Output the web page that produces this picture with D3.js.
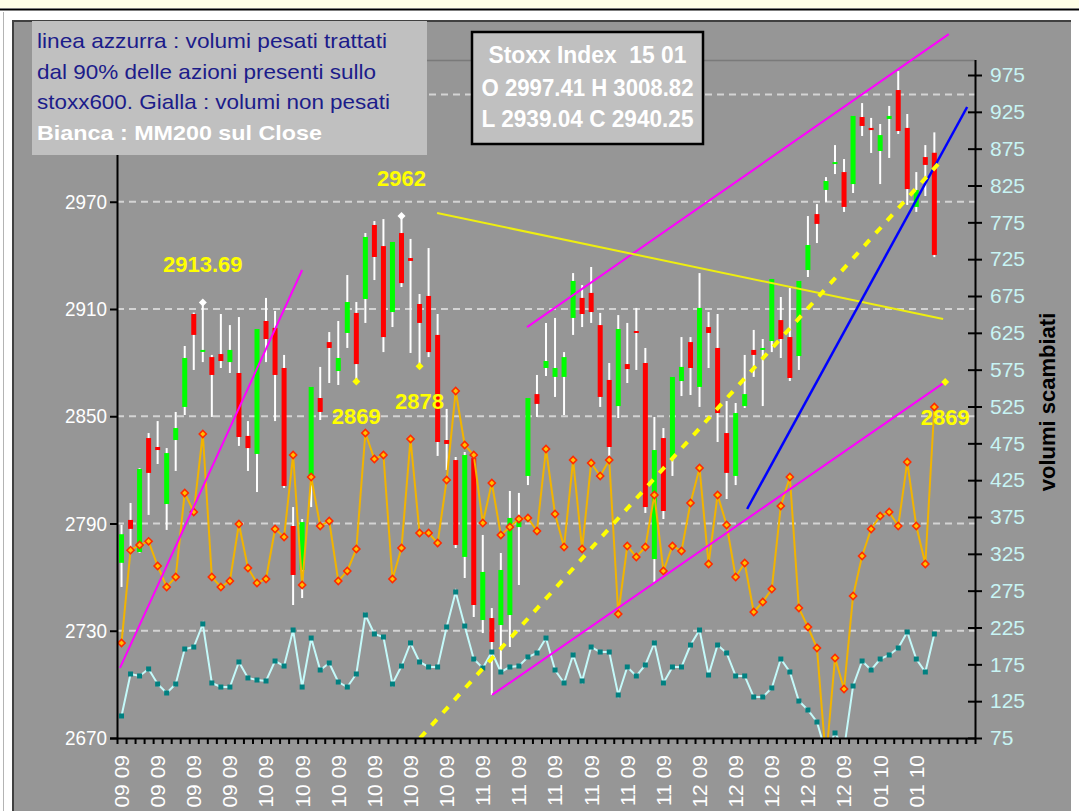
<!DOCTYPE html>
<meta charset="utf-8">
<title>Stoxx Index 15 01</title>
<script src="https://cdn.jsdelivr.net/npm/d3@7"></script>
<style>
body { margin: 0; background: #fff; overflow: hidden; }
svg text { font-family: Arial, "Liberation Sans", sans-serif; }
</style>
<body>
<svg id="chart" width="1079" height="811"></svg>
<script>

// daily candles, Stoxx index
var open = [2768, 2792, 2774, 2837.8, 2832.8, 2800.9, 2836.7, 2855.2, 2907.2, 2886.5,
  2883.1, 2884.8, 2880.3, 2874.2, 2839, 2828.9, 2903.3, 2899.4, 2877, 2788.6,
  2764, 2816, 2860.2, 2891.5, 2875.3, 2896.6, 2907.8, 2915.6, 2957, 2945.2,
  2908.3, 2952.5, 2938.5, 2912.8, 2917.3, 2895.5, 2836.7, 2825.5, 2771.3, 2826.6,
  2736, 2737.1, 2733.2, 2738.8, 2788, 2816.6, 2862.4, 2877, 2872, 2872,
  2905, 2916.2, 2919, 2901, 2870.3, 2855.7, 2879.2, 2897.7, 2879.8, 2770.1,
  2837.8, 2826.6, 2869.7, 2891.5, 2866.4, 2899.9, 2888.2, 2840.6, 2816.6, 2855.7,
  2887.1, 2887.1, 2892.1, 2903.8, 2894.3, 2883.7, 2931.8, 2963.1, 2976.6, 2991.1,
  2986.6, 2979.9, 3017.4, 3011.3, 2998.4, 3016.3, 3032.5, 3011.3, 2967.1, 2995,
  2997.41];
var high = [2789.2, 2801.5, 2821, 2840.6, 2847.3, 2832.2, 2852.4, 2889.3, 2908, 2913.69,
  2884.3, 2907.2, 2901, 2905.5, 2847.3, 2898.8, 2916.2, 2908.9, 2884.3, 2799.2,
  2792.5, 2866.4, 2877.6, 2897.1, 2903.3, 2929, 2913.9, 2952.5, 2959.2, 2960.3,
  2947.5, 2962, 2949.2, 2918.4, 2944.1, 2907.2, 2854.1, 2827.2, 2830, 2828.3,
  2783.6, 2742.7, 2773.5, 2808.2, 2807.1, 2860.2, 2873.1, 2902.2, 2905, 2885.9,
  2930.1, 2923.4, 2933.5, 2907.8, 2879.8, 2906.6, 2902.2, 2910.6, 2888.2, 2849.6,
  2843.4, 2872, 2894.3, 2894.3, 2930.1, 2908.3, 2907.2, 2858.5, 2857.4, 2884.3,
  2898.3, 2893.2, 2926.8, 2916.7, 2921.7, 2925.7, 2962, 2968.7, 2983.8, 3001.7,
  2993.9, 3018, 3025.2, 3016.9, 3013.5, 3023.6, 3043.1, 3019.1, 2986.6, 3001.7,
  3008.82];
var low = [2754.5, 2776.3, 2773.5, 2794.8, 2823.3, 2786.4, 2819.4, 2850.7, 2875.9, 2880.3,
  2849.6, 2877, 2874.2, 2833.4, 2819.4, 2807.6, 2880.3, 2847.3, 2809.9, 2744.4,
  2748.3, 2799.2, 2847.9, 2868.6, 2867.5, 2888.2, 2869.5, 2902.2, 2926.2, 2885.9,
  2899.9, 2922.3, 2885.4, 2878, 2883.1, 2827.8, 2819.9, 2776.3, 2759.5, 2737.7,
  2728.7, 2694.1, 2706.4, 2720.9, 2755.6, 2811.5, 2849.6, 2872.5, 2860.8, 2850.7,
  2895.5, 2899.9, 2902.2, 2855.2, 2827.8, 2849, 2868.6, 2875.9, 2795.9, 2757.3,
  2792.5, 2816.6, 2861.3, 2861.9, 2855.2, 2877, 2835.6, 2803.7, 2811.5, 2854.6,
  2872, 2855.7, 2885.9, 2882.6, 2869.7, 2875.9, 2927.9, 2946.9, 2969.9, 2985.5,
  2964.3, 2974.9, 3006.8, 2997.3, 2979.9, 2994.5, 3007.9, 2968.2, 2964.3, 2973.2,
  2939.04];
var close = [2784, 2787, 2820.5, 2818.3, 2831.1, 2829.4, 2843.4, 2882.6, 2895.5, 2887.1,
  2873.1, 2880.9, 2887.1, 2838.4, 2832.2, 2898.8, 2893.2, 2873.1, 2811, 2761.2,
  2790.8, 2866.4, 2852.4, 2888.2, 2882.6, 2913.9, 2879.2, 2950.3, 2939.1, 2894.3,
  2947.5, 2924.5, 2936.9, 2902.2, 2885.9, 2835.6, 2834.5, 2778, 2828.3, 2744.4,
  2762.9, 2723.7, 2764, 2793.1, 2793.6, 2860.2, 2856.9, 2880.9, 2877, 2883.1,
  2925.7, 2907.2, 2908.3, 2860.8, 2832.8, 2898.8, 2876.4, 2897.1, 2799.2, 2831.1,
  2797, 2872, 2877.6, 2877, 2910.6, 2896.6, 2851.8, 2818.3, 2851.8, 2862.4,
  2884.3, 2888.2, 2926.8, 2893.2, 2871.4, 2925.7, 2945.8, 2957.6, 2981.6, 2992.2,
  2967.1, 3018, 3012.4, 3010.1, 3007.3, 3018, 3009.6, 2977.1, 2976.6, 2990.6,
  2940.25];

// volumes (right axis)
var volNonPesati = [204, 330, 337, 342, 308.5, 280, 293.6, 407.6, 381.8, 487.7,
  293.6, 280, 288.1, 365.5, 305.8, 285.4, 290.8, 358.7, 347.9, 459.2,
  282.7, 429.3, 362.8, 369.6, 288.1, 301.7, 331.6, 489, 453.7, 459.2,
  290.8, 332.9, 480.9, 353.3, 353.3, 339.7, 425.2, 546, 472.7, 459.2,
  366.9, 421.2, 350.6, 361.4, 372.3, 373.7, 356, 467.3, 379.1, 334.3,
  452.4, 331.6, 448.3, 430.7, 452.4, 243.3, 335.6, 320.7, 334.3, 404.9,
  301.7, 335.6, 328.9, 394, 441.5, 311.2, 404.9, 364.1, 293.6, 312.6,
  246, 259.6, 277.3, 389.9, 429.3, 251.5, 225.7, 197.2, 45, 183.6,
  141.5, 267.8, 322.1, 358.7, 376.4, 381.8, 362.8, 449.7, 362.8, 311.2,
  524.3];
var volPesati = [104.9, 161.9, 159.2, 168.7, 148.3, 136.1, 148.3, 195.8, 198.5, 229.8,
  149.7, 144.2, 144.2, 178.2, 156.5, 153.7, 152.4, 179.5, 172.7, 221.6,
  144.2, 210.7, 167.3, 176.8, 151, 144.2, 161.9, 242, 216.2, 212.1,
  148.3, 172.7, 204, 178.2, 171.4, 171.4, 225.7, 273.2, 227, 182.2,
  170, 191.7, 164.6, 171.4, 172.7, 185, 190.4, 210.7, 167.3, 149.7,
  187.7, 152.4, 198.5, 191.7, 191.7, 133.4, 171.4, 159.2, 174.1, 204,
  149.7, 171.4, 171.4, 201.2, 221.6, 160.5, 201.2, 190.4, 159.2, 159.2,
  130.7, 130.7, 142.9, 182.2, 164.6, 125.2, 113, 96.7, 55, 81.8,
  60, 145.6, 179.5, 167.3, 182.2, 187.7, 197.2, 218.9, 182.2, 164.6,
  216.2];

// one date label every 4 sessions
var dateLabels = ["09 09 09", "15 09 09", "21 09 09", "25 09 09", "01 10 09", "07 10 09",
  "13 10 09", "19 10 09", "23 10 09", "29 10 09", "04 11 09", "10 11 09", "16 11 09",
  "20 11 09", "26 11 09", "30 11 09", "04 12 09", "10 12 09", "16 12 09", "22 12 09",
  "30 12 09", "07 01 10", "13 01 10"];

var leftTicks = [2670, 2730, 2790, 2850, 2910, 2970, 3030];
var rightTicks = [75, 125, 175, 225, 275, 325, 375, 425, 475, 525, 575, 625, 675,
  725, 775, 825, 875, 925, 975];

// hand drawn lines: [session, price] start and end
var magentaLines = [[[-0.17, 2709.2], [20, 2931.8]],
                    [[44.9, 2899.9], [91.6, 3063.8]],
                    [[41.03, 2694.1], [91.2, 2869.2]]];
var yellowLine = [[34.94, 2963.7], [90.97, 2904.4]];
var blueLine = [[69.27, 2798.1], [93.63, 3023]];
var dashedLine = [[33.06, 2670], [90.42, 2991.1]];

// marked highs / lows
var markSession = [9, 31, 26, 33, 91.2];
var markValue = [2913.69, 2962, 2869.5, 2878, 2869.2];
var markText = ["2913.69", "2962", "2869", "2878", "2869"];
var markIsHigh = [true, true, false, false, false];

var svg = d3.select("#chart");

var x = d3.scaleLinear().domain([-0.5, 94.5]).range([117, 975]);
var yL = d3.scaleLinear().domain([2670, 3030]).range([738, 94.5]);
var yR = d3.scaleLinear().domain([75, 975]).range([738, 75]);

// frame
svg.append("rect").attr("width", 1079).attr("height", 811).attr("fill", "#fff");
svg.append("rect").attr("width", 1079).attr("height", 8).attr("fill", "#ffffe6");
svg.append("line").attr("x1", 0).attr("x2", 1079).attr("y1", 9.5).attr("y2", 9.5)
    .attr("stroke", "#000").attr("stroke-width", 2);
svg.append("line").attr("x1", 3.5).attr("x2", 3.5).attr("y1", 12).attr("y2", 811)
    .attr("stroke", "#b4b4b4");
svg.append("rect").attr("x", 12).attr("y", 20).attr("width", 1059).attr("height", 800)
    .attr("fill", "#969696");
svg.append("path").attr("d", "M13,811V21H1071").attr("fill", "none")
    .attr("stroke", "#404040").attr("stroke-width", 2);
svg.append("line").attr("x1", 117).attr("x2", 975).attr("y1", 60.5).attr("y2", 60.5)
    .attr("stroke", "#7a7a7a").attr("stroke-width", 1.5);

svg.append("clipPath").attr("id", "plot")
  .append("rect").attr("x", 117).attr("y", 60).attr("width", 858).attr("height", 678);

// grid
svg.append("g").selectAll("line")
    .data(leftTicks.slice(1))
  .enter().append("line")
    .attr("x1", 117).attr("x2", 975)
    .attr("y1", function(d) { return yL(d); })
    .attr("y2", function(d) { return yL(d); })
    .attr("stroke", "#d4d4d4").attr("stroke-width", 2)
    .attr("stroke-dasharray", "7,5");

// candles
var candles = svg.append("g").selectAll("g")
    .data(open)
  .enter().append("g");

candles.append("line")
    .attr("x1", function(d, i) { return x(i); })
    .attr("x2", function(d, i) { return x(i); })
    .attr("y1", function(d, i) { return yL(high[i]); })
    .attr("y2", function(d, i) { return yL(low[i]); })
    .attr("stroke", "#fff").attr("stroke-width", 2);

candles.append("rect")
    .attr("x", function(d, i) { return x(i) - 2.5; })
    .attr("width", 5)
    .attr("y", function(d, i) { return yL(Math.max(open[i], close[i])); })
    .attr("height", function(d, i) { return Math.max(2, Math.abs(yL(open[i]) - yL(close[i]))); })
    .attr("fill", function(d, i) { return close[i] >= open[i] ? "#00ff00" : "#ff0000"; });

// volume lines
var vol = svg.append("g").attr("clip-path", "url(#plot)");
var volLine = d3.line()
    .x(function(d, i) { return x(i); })
    .y(function(d) { return yR(d); });

vol.append("path").attr("d", volLine(volNonPesati))
    .attr("fill", "none").attr("stroke", "#f2b400").attr("stroke-width", 2);
vol.append("path").attr("d", volLine(volPesati))
    .attr("fill", "none").attr("stroke", "#c4fafa").attr("stroke-width", 2);

vol.selectAll(".mo")
    .data(volNonPesati)
  .enter().append("path")
    .attr("class", "mo")
    .attr("d", d3.symbol(d3.symbolSquare, 26))
    .attr("transform", function(d, i) { return "translate(" + x(i) + "," + yR(d) + ") rotate(45)"; })
    .attr("fill", "#ffc000").attr("stroke", "#ff2a00").attr("stroke-width", 1.5);

vol.selectAll(".mc")
    .data(volPesati)
  .enter().append("rect")
    .attr("class", "mc")
    .attr("x", function(d, i) { return x(i) - 2.5; })
    .attr("y", function(d) { return yR(d) - 2.5; })
    .attr("width", 5).attr("height", 5)
    .attr("fill", "#008080");

// trend lines
function drawLine(pts, color, w) {
  return svg.append("line")
    .attr("x1", x(pts[0][0])).attr("y1", yL(pts[0][1]))
    .attr("x2", x(pts[1][0])).attr("y2", yL(pts[1][1]))
    .attr("stroke", color).attr("stroke-width", w);
}
magentaLines.forEach(function(l) { drawLine(l, "#ff00ff", 2); });
drawLine(yellowLine, "#eeee10", 2);
drawLine(blueLine, "#0000ff", 2.5);
drawLine(dashedLine, "#ffff00", 4)
    .attr("stroke-dasharray", "8,9")
    .attr("clip-path", "url(#plot)");

// marks
markSession.forEach(function(s, i) {
  var px = x(s), py = yL(markValue[i]);
  svg.append("path")
      .attr("d", d3.symbol(d3.symbolSquare, 32))
      .attr("transform", "translate(" + px + "," + py + ") rotate(45)")
      .attr("fill", markIsHigh[i] ? "#fff" : "#ffff00");
  svg.append("text")
      .attr("x", px)
      .attr("y", markIsHigh[i] ? py - 30 : py + 43)
      .attr("text-anchor", "middle")
      .attr("font-size", 22).attr("font-weight", "bold")
      .attr("fill", "#ffff00")
      .text(markText[i]);
});

// axes
var gl = svg.append("g").attr("transform", "translate(117,0)")
    .call(d3.axisLeft(yL).tickValues(leftTicks).tickSize(7).tickPadding(3).tickSizeOuter(0)
      .tickFormat(function(d) { return d < 3000 ? d3.format("d")(d) : ""; }));
gl.select(".domain").remove();
gl.selectAll(".tick line").attr("stroke", "#000").attr("stroke-width", 2);
gl.selectAll(".tick text").filter(function(d) { return d < 3000; })
    .attr("fill", "#fff").attr("font-size", 21)
    .attr("textLength", 42).attr("lengthAdjust", "spacingAndGlyphs");
svg.append("line").attr("x1", 117.5).attr("x2", 117.5).attr("y1", 60).attr("y2", 739)
    .attr("stroke", "#000").attr("stroke-width", 2);

var gr = svg.append("g").attr("transform", "translate(975,0)")
    .call(d3.axisRight(yR).tickValues(rightTicks).tickSize(7).tickPadding(8).tickSizeOuter(0));
gr.select(".domain").remove();
gr.selectAll(".tick line").attr("x1", -7).attr("x2", 7)
    .attr("stroke", "#000").attr("stroke-width", 2);
gr.selectAll(".tick text").attr("fill", "#c8f4f4").attr("font-size", 21);
svg.append("line").attr("x1", 975.5).attr("x2", 975.5).attr("y1", 60).attr("y2", 739)
    .attr("stroke", "#000").attr("stroke-width", 2);

var gb = svg.append("g").attr("transform", "translate(0,738)")
    .call(d3.axisBottom(x).tickValues(d3.range(96).map(function(i) { return i - 0.5; }))
      .tickSize(6).tickFormat("").tickSizeOuter(0));
gb.select(".domain").remove();
gb.selectAll(".tick line").attr("stroke", "#000").attr("stroke-width", 2);
svg.append("line").attr("x1", 110).attr("x2", 976).attr("y1", 738.5).attr("y2", 738.5)
    .attr("stroke", "#000").attr("stroke-width", 2);

svg.append("g").selectAll("text")
    .data(dateLabels)
  .enter().append("text")
    .attr("transform", function(d, k) { return "translate(" + x(4 * k) + ",755) rotate(-90)"; })
    .attr("dy", "0.35em")
    .attr("text-anchor", "end")
    .attr("font-size", 21)
    .attr("fill", "#fff")
    .text(function(d) { return d; });

svg.append("text")
    .attr("transform", "translate(1047,402) rotate(-90)")
    .attr("dy", "0.35em")
    .attr("text-anchor", "middle")
    .attr("font-size", 22).attr("font-weight", "bold")
    .attr("fill", "#000")
    .text("volumi scambiati");

// legend box
svg.append("rect").attr("x", 32).attr("y", 21).attr("width", 395).attr("height", 134)
    .attr("fill", "#c0c0c0");
var legendLines = ["linea azzurra : volumi pesati trattati",
  "dal 90% delle azioni presenti sullo",
  "stoxx600. Gialla : volumi non pesati",
  "Bianca : MM200 sul Close"];
var legendW = [350, 339, 353, 285];
legendLines.forEach(function(t, i) {
  svg.append("text")
      .attr("x", 37).attr("y", 48 + i * 30.7)
      .attr("font-size", 21)
      .attr("font-weight", i == 3 ? "bold" : "normal")
      .attr("fill", i == 3 ? "#fff" : "#1c1c8a")
      .attr("textLength", legendW[i]).attr("lengthAdjust", "spacingAndGlyphs")
      .text(t);
});

// title box
svg.append("rect").attr("x", 472).attr("y", 32).attr("width", 231).attr("height", 112)
    .attr("fill", "#c0c0c0").attr("stroke", "#000").attr("stroke-width", 2.5);
var titleLines = ["Stoxx Index  15 01", "O 2997.41 H 3008.82", "L 2939.04 C 2940.25"];
var titleW = [198, 212, 212];
var titleY = [63, 96, 127];
titleLines.forEach(function(t, i) {
  svg.append("text")
      .attr("x", 587.5).attr("y", titleY[i])
      .attr("text-anchor", "middle")
      .attr("font-size", 24).attr("font-weight", "bold")
      .attr("fill", "#fff")
      .attr("textLength", titleW[i]).attr("lengthAdjust", "spacingAndGlyphs")
      .style("white-space", "pre")
      .text(t);
});

</script>
